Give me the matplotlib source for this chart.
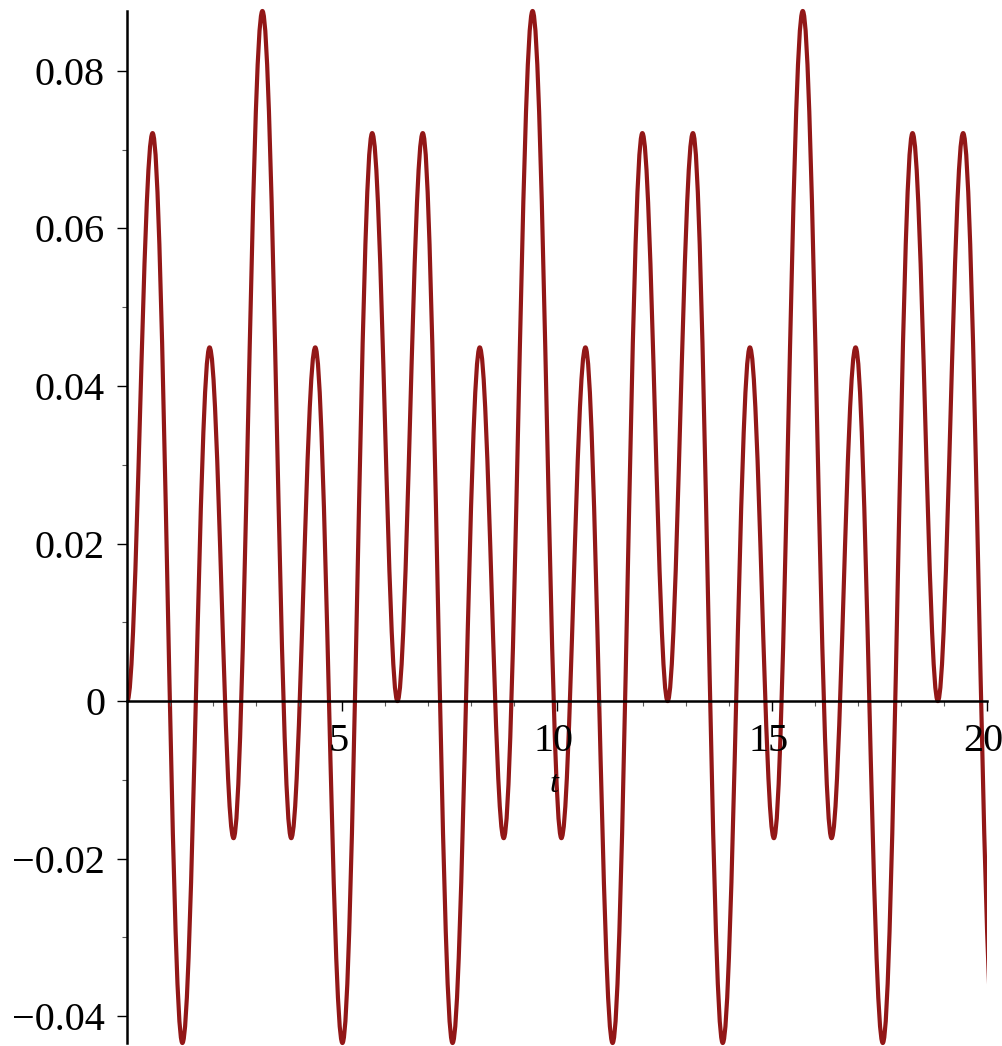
import matplotlib
matplotlib.use("Agg")
import matplotlib.pyplot as plt
from matplotlib.path import Path
from matplotlib.patches import PathPatch, Rectangle
from matplotlib.transforms import ScaledTranslation

# turning points of the curve (t, value);
# the last trough sits just past the right edge at t = 20
ext_t = [0.000, 0.588, 1.281, 1.913, 2.471, 3.142, 3.812, 4.371, 5.003, 5.695,
         6.283, 6.871, 7.564, 8.196, 8.754, 9.425, 10.095, 10.654, 11.286, 11.978,
         12.566, 13.154, 13.847, 14.479, 15.037, 15.708, 16.378, 16.937, 17.569, 18.261,
         18.850, 19.438, 20.160]
ext_y = [0.0, 0.0721, -0.0434, 0.0449, -0.0174, 0.0876, -0.0174, 0.0449, -0.0434, 0.0721,
         0.0, 0.0721, -0.0434, 0.0449, -0.0174, 0.0876, -0.0174, 0.0449, -0.0434, 0.0721,
         0.0, 0.0721, -0.0434, 0.0449, -0.0174, 0.0876, -0.0174, 0.0449, -0.0434, 0.0721,
         0.0, 0.0721, -0.0434]

x_ticks = [5, 10, 15, 20]
x_labels = ["5", "10", "15", "20"]
x_minor = [1, 2, 3, 4, 6, 7, 8, 9, 11, 12, 13, 14, 16, 17, 18, 19]
y_ticks = [-0.04, -0.02, 0, 0.02, 0.04, 0.06, 0.08]
y_labels = ["\u22120.04", "\u22120.02", "0", "0.02", "0.04", "0.06", "0.08"]
y_minor = [-0.03, -0.01, 0.01, 0.03, 0.05, 0.07]

plt.rcParams["font.family"] = ["Liberation Serif", "DejaVu Serif"]

W, H = 1003, 1046
fig = plt.figure(figsize=(W / 100, H / 100), dpi=100)
ax = fig.add_axes([127.3 / W, 3 / H, 860 / W, 1032 / H])

# smooth half-waves between consecutive turning points (flat tangents at the tips)
k = 0.364
verts = [(ext_t[0], ext_y[0])]
codes = [Path.MOVETO]
for i in range(1, len(ext_t)):
    t0, y0 = ext_t[i - 1], ext_y[i - 1]
    t1, y1 = ext_t[i], ext_y[i]
    dt = t1 - t0
    verts += [(t0 + k * dt, y0), (t1 - k * dt, y1), (t1, y1)]
    codes += [Path.CURVE4] * 3

curve = PathPatch(Path(verts, codes), facecolor="none", edgecolor="#921717",
                  lw=3.0, capstyle="butt", joinstyle="round")
ax.add_patch(curve)
clip = Rectangle((0, -1), 20, 2, transform=ax.transData)
curve.set_clip_path(clip)

ax.set_xlim(0, 20)
ax.set_ylim(-0.0434, 0.0876)

for s in ["top", "right"]:
    ax.spines[s].set_visible(False)
ax.spines["bottom"].set_position(("data", 0))
ax.spines["left"].set_linewidth(1.8)
ax.spines["bottom"].set_linewidth(1.8)

ax.set_xticks(x_ticks)
ax.set_xticklabels(x_labels)
ax.set_xticks(x_minor, minor=True)
ax.set_yticks(y_ticks)
ax.set_yticklabels(y_labels)
ax.set_yticks(y_minor, minor=True)

ax.tick_params(which="major", direction="out", length=7.5, width=1.0, color="black",
               labelsize=29, pad=8.5)
ax.tick_params(which="minor", direction="out", length=3.5, width=0.8, color="0.35")

for lab in ax.get_xticklabels():
    lab.set_transform(lab.get_transform() + ScaledTranslation(-0.04, 0, fig.dpi_scale_trans))

ax.text(0.496, 0.25, "t", transform=ax.transAxes, ha="center", va="center",
        fontsize=23, fontstyle="italic")

fig.savefig("out.png", dpi=100)
